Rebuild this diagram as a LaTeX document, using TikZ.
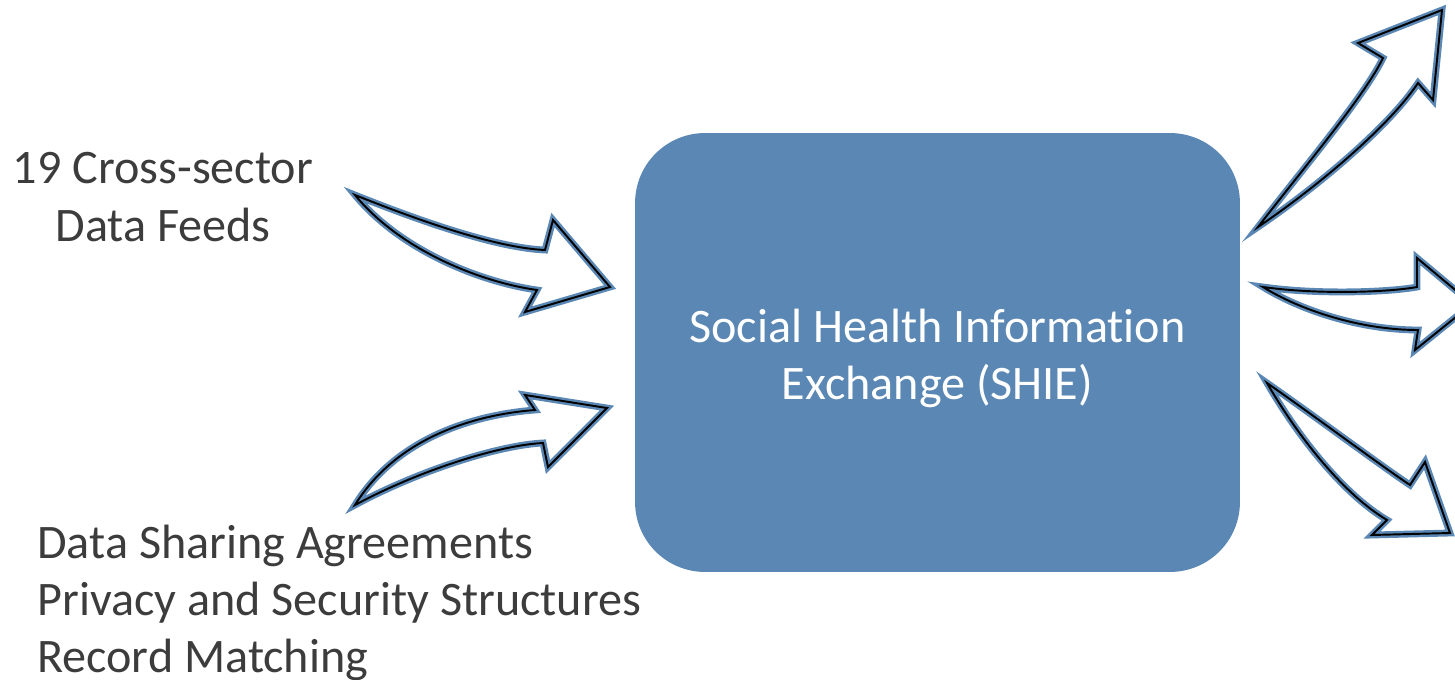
\documentclass[tikz,border=0pt]{standalone}
\usepackage{fontspec}
\setmainfont[Ligatures=NoCommon]{Carlito}
\definecolor{shieblau}{HTML}{5A87B3}
\definecolor{textgrau}{HTML}{3C3C3C}

\tikzset{
	pfeil/.style={fill=white,draw=shieblau,double=black,double distance=1.1pt,line width=1.4pt,line join=miter},
	kasten/.style={fill=shieblau,rounded corners=1.4cm,minimum width=12.1cm,minimum height=8.78cm},
	kastentext/.style={text=white,align=center,inner sep=0pt,font=\fontsize{27.4}{32.6}\selectfont},
	beschrift/.style={text=textgrau,font=\fontsize{27.4}{32.6}\selectfont,inner sep=0pt}
}

\begin{document}
\begin{tikzpicture}[x=0.02cm,y=-0.02cm]
\useasboundingbox (0,0) rectangle (1455,680);
\clip (0,0) rectangle (1455,680);

\node[kasten] (shie) at (937.5,352.5) {};
\node[kastentext] (shietext) at ([yshift=-0.12cm]shie.center) {Social Health Information\\Exchange (SHIE)};
\node[beschrift,align=center] (feeds) at (163,197) {19 Cross-sector\\Data Feeds};
\node[beschrift,align=left,anchor=west] (basis) at (37,603) {Data Sharing Agreements\\Privacy and Security Structures\\Record Matching};

% Pfeile links
\filldraw[pfeil] (355,195) .. controls (430,225) and (500,248) .. (545,250) -- (553,220) -- (610,287)
	-- (525,312) -- (537,290) .. controls (480,282) and (400,250) .. cycle;
\filldraw[pfeil] (355,505) .. controls (395,440) and (470,415) .. (535,410) -- (525,395) -- (607,408)
	-- (548,467) -- (543,443) .. controls (500,445) and (420,470) .. cycle;

% Pfeile rechts
\filldraw[pfeil] (1258,227) .. controls (1310,160) and (1365,95) .. (1383,58) -- (1358,43) -- (1442,10)
	-- (1433,100) -- (1418,83) .. controls (1390,125) and (1320,185) .. cycle;
\filldraw[pfeil] (1263,287) .. controls (1320,295) and (1390,292) .. (1417,287) -- (1417,258) -- (1472,304)
	-- (1415,350) -- (1418,330) .. controls (1360,330) and (1300,310) .. cycle;
\filldraw[pfeil] (1267,383) .. controls (1320,420) and (1380,465) .. (1410,485) -- (1425,462) -- (1450,533)
	-- (1372,535) -- (1387,520) .. controls (1345,495) and (1300,440) .. cycle;
\end{tikzpicture}
\end{document}
